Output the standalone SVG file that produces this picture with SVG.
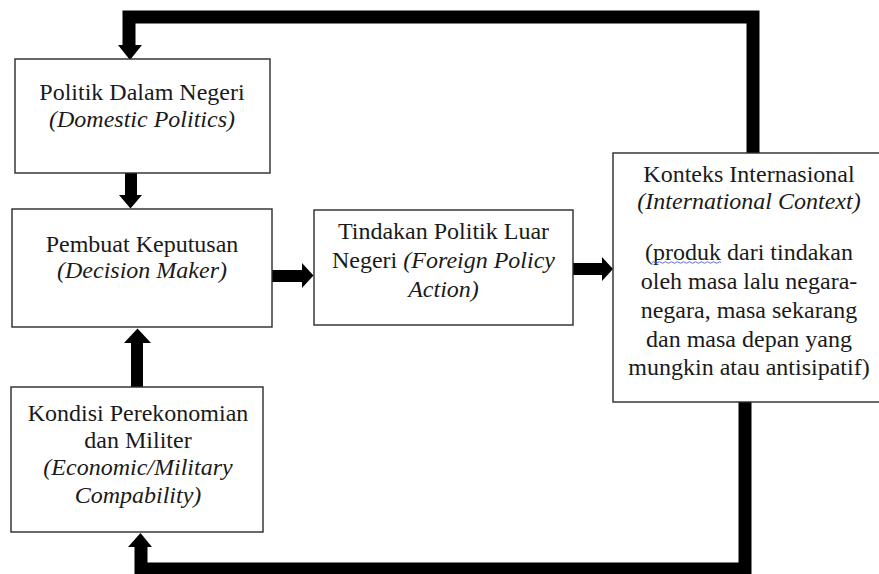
<svg xmlns="http://www.w3.org/2000/svg" width="879" height="574" viewBox="0 0 879 574">
<style>
.box{fill:#fff;stroke:#2a2a2a;stroke-width:1.4}
.t{font-family:'Times New Roman',Tinos,'Liberation Serif',serif;font-size:24px;fill:#1a1a1a;text-anchor:middle}
.i{font-style:italic}
.loop{fill:none;stroke:#000;stroke-width:13;stroke-linejoin:miter;stroke-linecap:butt}
.ar{fill:#000}
</style>
<rect width="879" height="574" fill="#fff"/>
<g id="connectors">
<path class="loop" d="M753,153 V17 H129 V46"/>
<polygon class="ar" points="118,45 142,45 130,60"/>
<polygon class="ar" points="125,173 137,173 137,195 142,195 130.5,208.5 119,195 125,195"/>
<polygon class="ar" points="272,270 302,270 302,263 313.5,275.5 302,288 302,282 272,282"/>
<polygon class="ar" points="573,263 602,263 602,257 613,269 602,281 602,275 573,275"/>
<polygon class="ar" points="131,387 131,343 124,343 137.5,328.5 151,343 143,343 143,387"/>
<path class="loop" d="M745,402 V569 H141 V546"/>
<polygon class="ar" points="128,547 152,547 140.5,533"/>
</g>
<g id="domestic">
<rect class="box" x="15" y="59" width="255" height="114"/>
<text class="t" x="142" y="100">Politik Dalam Negeri</text>
<text class="t i" x="142" y="127">(Domestic Politics)</text>
</g>
<g id="decision">
<rect class="box" x="12" y="209" width="260" height="118"/>
<text class="t" x="142" y="252">Pembuat Keputusan</text>
<text class="t i" x="142" y="278">(Decision Maker)</text>
</g>
<g id="action">
<rect class="box" x="314" y="210" width="259" height="115"/>
<text class="t" x="443.5" y="239">Tindakan Politik Luar</text>
<text class="t" x="443.5" y="268">Negeri <tspan class="i">(Foreign Policy</tspan></text>
<text class="t i" x="443.5" y="297">Action)</text>
</g>
<g id="international">
<rect class="box" x="613" y="153" width="270" height="249"/>
<text class="t" x="749" y="182">Konteks Internasional</text>
<text class="t i" x="749" y="209">(International Context)</text>
<text class="t" x="749" y="260">(produk dari tindakan</text>
<text class="t" x="749" y="289">oleh masa lalu negara-</text>
<text class="t" x="749" y="318">negara, masa sekarang</text>
<text class="t" x="749" y="347">dan masa depan yang</text>
<text class="t" x="749" y="375">mungkin atau antisipatif)</text>
<path d="M652,262.5 q1.5,-1.5 3,0 t3,0 t3,0 t3,0 t3,0 t3,0 t3,0 t3,0 t3,0 t3,0 t3,0 t3,0 t3,0 t3,0 t3,0 t3,0 t3,0 t3,0 t3,0 t3,0 t3,0 t3,0 t3,0" fill="none" stroke="#4a5fd0" stroke-width="0.9"/>
</g>
<g id="economic">
<rect class="box" x="11" y="387" width="252" height="145"/>
<text class="t" x="138" y="421">Kondisi Perekonomian</text>
<text class="t" x="138" y="448">dan Militer</text>
<text class="t i" x="138" y="475">(Economic/Military</text>
<text class="t i" x="138" y="503">Compability)</text>
</g>
</svg>
